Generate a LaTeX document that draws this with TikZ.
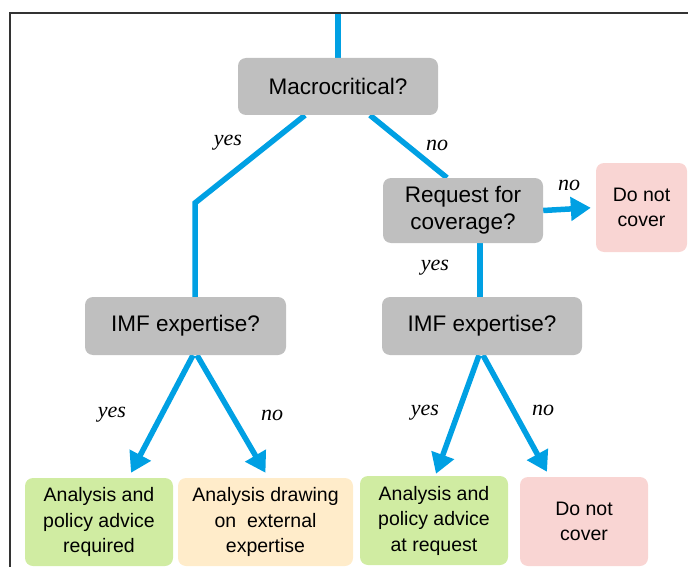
\documentclass[tikz,border=0pt]{standalone}
\usepackage{fontspec}
\setmainfont{Liberation Sans}
\newfontfamily\lblfont{Liberation Serif}
\usetikzlibrary{arrows.meta,backgrounds,calc}
\definecolor{flowblue}{RGB}{0,160,227}
\definecolor{qgray}{RGB}{191,191,191}
\definecolor{okgreen}{RGB}{208,236,162}
\definecolor{extyellow}{RGB}{255,236,202}
\definecolor{nopink}{RGB}{249,213,211}
\tikzset{
  qbox/.style={fill=qgray, rounded corners=8pt, align=center, inner sep=0pt,
    font=\fontsize{22.5}{27}\selectfont},
  abox/.style={rounded corners=8pt, align=center, inner sep=0pt,
    font=\fontsize{19.5}{25.5}\selectfont},
  flow/.style={draw=flowblue, line width=5.5pt},
  arr/.style={flow, -{Triangle[width=23pt,length=20pt]}},
  lbl/.style={font=\lblfont\itshape\fontsize{22}{26}\selectfont, inner sep=0pt}
}
\begin{document}
\begin{tikzpicture}[x=1pt,y=-1pt]
\useasboundingbox (0,0) rectangle (688,567);
% frame
\coordinate (fbl) at (10,567);
\coordinate (ftl) at (10,13);
\coordinate (ftr) at (688,13);
\draw[line width=1.2pt, black!80] (fbl) -- (ftl) -- (ftr);

% question boxes
\node[qbox, minimum width=200pt, minimum height=57pt] (macro) at (338,86.5) {Macrocritical?};
\node[qbox, minimum width=160pt, minimum height=65pt] (req) at (463,210.5) {Request for\\coverage?};
\node[qbox, minimum width=201pt, minimum height=58pt] (imf1) at (185.5,326) {IMF expertise?};
\node[qbox, minimum width=200pt, minimum height=58pt] (imf2) at (482,326) {IMF expertise?};

% outcome boxes
\node[abox, fill=nopink, minimum width=91pt, minimum height=89pt] (dnc1) at (641.5,207.5) {Do not\\cover};
\node[abox, fill=okgreen, minimum width=148pt, minimum height=88pt] (b1) at (99,522) {Analysis and\\policy advice\\required};
\node[abox, fill=extyellow, minimum width=175pt, minimum height=88pt] (b2) at (265.5,522) {Analysis drawing\\on\ \ external\\expertise};
\node[abox, fill=okgreen, minimum width=148pt, minimum height=89pt] (b3) at (434,520.5) {Analysis and\\policy advice\\at request};
\node[abox, fill=nopink, minimum width=128pt, minimum height=89pt] (b4) at (584,521.5) {Do not\\cover};

% labels
\node[lbl] (l1) at (228,143) {yes};
\node[lbl] (l2) at (437,145) {no};
\node[lbl] (l3) at (569,185) {no};
\node[lbl] (l4) at (435,268) {yes};
\node[lbl] (l5) at (112,415) {yes};
\node[lbl] (l6) at (272,415) {no};
\node[lbl] (l7) at (425,413) {yes};
\node[lbl] (l8) at (543,410) {no};

% connectors
\coordinate (top) at (338,13);
\coordinate (bend) at (195,203);
\coordinate (r1) at ([xshift=17pt]req.south);
\begin{scope}[on background layer]
\draw[flow] (top) -- (macro.north);
\draw[flow, line join=miter] ([xshift=-33pt]macro.south) -- (bend) -- (bend |- imf1.north);
\draw[flow] ([xshift=32pt]macro.south) -- ([xshift=-16pt]req.north);
\draw[arr, shorten >=5pt] (req.east) -- (dnc1.west);
\draw[flow] (r1) -- (r1 |- imf2.north);
\draw[arr] ([xshift=7.5pt]imf1.south) -- ([shift={(32,-5)}]b1.north);
\draw[arr] ([xshift=11.5pt]imf1.south) -- ([shift={(0,-5)}]b2.north);
\draw[arr] ([xshift=-3pt]imf2.south) -- ([shift={(2,-2)}]b3.north);
\draw[arr] ([xshift=1pt]imf2.south) -- ([shift={(-37,-5)}]b4.north);
\end{scope}
\end{tikzpicture}
\end{document}
